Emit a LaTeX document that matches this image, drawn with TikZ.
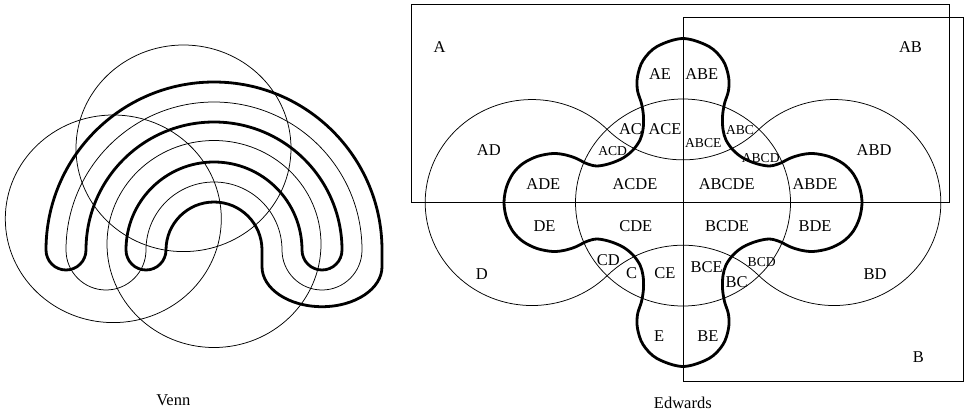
\documentclass[tikz,border=0pt]{standalone}
\usepackage{fontspec}
\setmainfont{Liberation Serif}
\begin{document}
\begin{tikzpicture}[x=1pt,y=-1pt,
  thinline/.style={line width=0.75pt},
  thickline/.style={line width=2.8pt, line join=round},
  lbl/.style={inner sep=0pt, font=\fontsize{16.5}{18}\selectfont},
  slbl/.style={inner sep=0pt, font=\fontsize{13.6}{15}\selectfont},
]
\useasboundingbox (0,0) rectangle (965,415);

% ---------------- Venn's construction ----------------
\draw[thinline] (183.5,148.3) ellipse [x radius=107.5, y radius=103.3];
\draw[thinline] (113.3,218.8) ellipse [x radius=108, y radius=103.8];
\draw[thinline] (214,244) ellipse [x radius=107, y radius=103.5];
\begin{scope}[shift={(214,250)}]
  % fourth set: thin horseshoe
  \draw[thinline] (-148,0) arc[start angle=180, end angle=360, radius=148]
     arc[start angle=0, end angle=180, radius=40]
     arc[start angle=0, end angle=-180, radius=68]
     arc[start angle=0, end angle=180, radius=40] -- cycle;
  % fifth set: thick snake
  \draw[thickline] (-168,0) arc[start angle=180, end angle=360, radius=168]
     -- (168,16.7)
     arc[start angle=0, end angle=180, x radius=60, y radius=40]
     -- (48,0)
     arc[start angle=0, end angle=-180, radius=48]
     arc[start angle=0, end angle=180, radius=20]
     arc[start angle=180, end angle=360, radius=88]
     arc[start angle=180, end angle=0, radius=20]
     arc[start angle=0, end angle=-180, radius=128]
     arc[start angle=0, end angle=180, radius=20] -- cycle;
\end{scope}
\node[lbl] (venn) at (173.3,400) {Venn};

% ---------------- Edwards' construction ----------------
\draw[thinline] (411.5,4.3) rectangle (949.5,202.5);
\draw[thinline] (683,17.5) rectangle (963.3,381.7);
\begin{scope}[shift={(683,202.5)}]
  % set C
  \draw[thinline] (0,0) ellipse [x radius=107.5, y radius=103.5];
  % set D: four arcs meeting tangentially on C
  \draw[thinline] (-75.5,-72.8)
     arc[start angle=315, end angle=45, x radius=106.8, y radius=103]
     arc[start angle=225, end angle=315, x radius=106.8, y radius=103]
     arc[start angle=135, end angle=-135, x radius=106.8, y radius=103]
     arc[start angle=45, end angle=135, x radius=106.8, y radius=103] -- cycle;
  % set E: cogwheel
  \draw[thickline] plot[smooth cycle, tension=0.55] coordinates {
    (0,-164) (-26,-156) (-40,-142) (-45.5,-126) (-45.5,-112) (-41.5,-99)
    (-39.5,-86) (-40,-73) (-43,-62.5) (-50,-52.5) (-60,-44.5) (-73,-39)
    (-86,-36.5) (-96.5,-39) (-106.5,-44) (-117,-47.5) (-130,-49) (-146,-46)
    (-160,-39) (-170,-29) (-176.5,-15.5) (-179,0)
    (-176.5,15.5) (-170,29) (-160,39) (-146,46) (-130,49) (-117,47.5)
    (-106.5,44) (-96.5,39) (-86,36.5) (-73,39) (-60,44.5) (-50,52.5)
    (-43,62.5) (-40,73) (-39.5,86) (-41.5,99) (-45.5,112) (-45.5,126)
    (-40,142) (-26,156) (0,164)
    (26,156) (40,142) (45.5,126) (45.5,112) (41.5,99) (39.5,86) (40,73)
    (43,62.5) (50,52.5) (60,44.5) (73,39) (86,36.5) (96.5,39) (106.5,44)
    (117,47.5) (130,49) (146,46) (160,39) (170,29) (176.5,15.5) (179,0)
    (176.5,-15.5) (170,-29) (160,-39) (146,-46) (130,-49) (117,-47.5)
    (106.5,-44) (96.5,-39) (86,-36.5) (73,-39) (60,-44.5) (50,-52.5)
    (43,-62.5) (40,-73) (39.5,-86) (41.5,-99) (45.5,-112) (45.5,-126)
    (40,-142) (26,-156)};
\end{scope}

% region labels
\node[lbl] (lA)     at (439.6,46.7)  {A};
\node[lbl] (lAB)    at (910.5,46.7)  {AB};
\node[lbl] (lAE)    at (660,74)      {AE};
\node[lbl] (lABE)   at (701.8,74)    {ABE};
\node[lbl] (lAC)    at (630.5,129)   {AC};
\node[lbl] (lACE)   at (665,129)     {ACE};
\node[slbl] (lACD)  at (612.7,150.7) {ACD};
\node[slbl] (lABCE) at (703.3,143.3) {ABCE};
\node[slbl] (lABC)  at (740,130)     {ABC};
\node[slbl] (lABCD) at (760.7,157.7) {ABCD};
\node[lbl] (lAD)    at (488.8,150)   {AD};
\node[lbl] (lABD)   at (874,150)     {ABD};
\node[lbl] (lADE)   at (543.3,184.2) {ADE};
\node[lbl] (lACDE)  at (635,184.2)   {ACDE};
\node[lbl] (lABCDE) at (726.7,184.2) {ABCDE};
\node[lbl] (lABDE)  at (815,184.5)   {ABDE};
\node[lbl] (lDE)    at (544.5,225.7) {DE};
\node[lbl] (lCDE)   at (635.8,225.7) {CDE};
\node[lbl] (lBCDE)  at (727,226)     {BCDE};
\node[lbl] (lBDE)   at (815,226.5)   {BDE};
\node[lbl] (lD)     at (481.7,274)   {D};
\node[lbl] (lBD)    at (875,274)     {BD};
\node[lbl] (lCD)    at (608.3,260)   {CD};
\node[lbl] (lC)     at (631.7,273.3) {C};
\node[lbl] (lCE)    at (665,273.3)   {CE};
\node[lbl] (lBCE)   at (706.7,266.7) {BCE};
\node[slbl] (lBCD)  at (761.7,261.7) {BCD};
\node[lbl] (lBC)    at (736.7,281.7) {BC};
\node[lbl] (lE)     at (659.2,336)   {E};
\node[lbl] (lBE)    at (707.8,336)   {BE};
\node[lbl] (lB)     at (918.3,356.7) {B};
\node[lbl] (edw)    at (682.8,403.3) {Edwards};
\end{tikzpicture}
\end{document}
